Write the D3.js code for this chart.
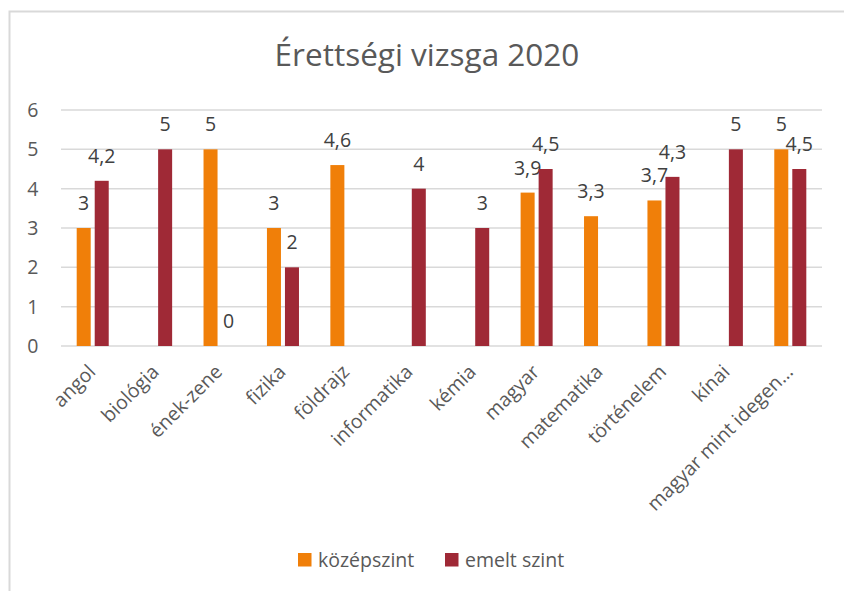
<!DOCTYPE html>
<html>
<head>
<meta charset="utf-8">
<script src="https://cdn.jsdelivr.net/npm/d3@7"></script>
<style>
  body { margin: 0; background: #fff; }
  text { font-family: "Open Sans", sans-serif; }
</style>
</head>
<body>
<div id="chart"></div>
<script>
// adatok
const categories = ["angol", "biológia", "ének-zene", "fizika", "földrajz", "informatika",
  "kémia", "magyar", "matematika", "történelem", "kínai", "magyar mint idegen…"];
const series = ["középszint", "emelt szint"];
const kozepszint = [3, null, 5, 3, 4.6, null, null, 3.9, 3.3, 3.7, null, 5];
const emeltSzint = [4.2, 5, 0, 2, null, 4, 3, 4.5, null, 4.3, 5, 4.5];
const yTicks = [0, 1, 2, 3, 4, 5, 6];
const colors = ["#F07F09", "#9F2936"];

const width = 844, height = 591;
const plot = {left: 61, right: 822, top: 110, bottom: 346};
const labelSize = "19.5px";

const svg = d3.select("#chart").append("svg")
  .attr("width", width)
  .attr("height", height);

// keret
svg.append("rect")
  .attr("x", 9.5).attr("y", 11.5)
  .attr("width", 900).attr("height", 700)
  .attr("fill", "#fff")
  .attr("stroke", "#D9D9D9")
  .attr("stroke-width", 2);

svg.append("text")
  .attr("x", 427).attr("y", 66)
  .attr("text-anchor", "middle")
  .attr("fill", "#595959")
  .style("font-size", "31.5px")
  .text("Érettségi vizsga 2020");

const x0 = d3.scaleBand()
  .domain(categories)
  .range([plot.left, plot.right]);

const groupW = x0.bandwidth() * 0.505;
const x1 = d3.scaleBand()
  .domain(series)
  .range([(x0.bandwidth() - groupW) / 2, (x0.bandwidth() + groupW) / 2])
  .paddingInner(4 / 18);

const y = d3.scaleLinear()
  .domain([0, 6])
  .range([plot.bottom, plot.top]);

// rácsvonalak
svg.append("g").selectAll("line")
  .data(yTicks)
  .enter().append("line")
  .attr("x1", plot.left).attr("x2", plot.right)
  .attr("y1", d => y(d)).attr("y2", d => y(d))
  .attr("stroke", "#D9D9D9")
  .attr("stroke-width", 1.5);

// y tengely feliratok
svg.append("g").selectAll("text")
  .data(yTicks)
  .enter().append("text")
  .attr("x", 38.5)
  .attr("y", d => y(d))
  .attr("dy", "0.36em")
  .attr("text-anchor", "end")
  .attr("fill", "#595959")
  .style("font-size", labelSize)
  .text(d => d);

const rows = categories.map((c, i) => ({
  cat: c,
  vals: [kozepszint[i], emeltSzint[i]]
}));

const fmt = v => String(v).replace(".", ",");

const group = svg.append("g").selectAll("g")
  .data(rows)
  .enter().append("g")
  .attr("transform", d => "translate(" + x0(d.cat) + ",0)");

const items = group.selectAll("g")
  .data(d => d.vals.map((v, j) => ({s: series[j], v: v, j: j})).filter(e => e.v !== null))
  .enter().append("g");

items.append("rect")
  .attr("x", d => x1(d.s))
  .attr("y", d => y(d.v))
  .attr("width", x1.bandwidth())
  .attr("height", d => y(0) - y(d.v))
  .attr("fill", d => colors[d.j]);

items.append("text")
  .attr("x", d => x1(d.s) + x1.bandwidth() / 2)
  .attr("y", d => y(d.v) - 18)
  .attr("text-anchor", "middle")
  .attr("fill", "#404040")
  .style("font-size", labelSize)
  .text(d => fmt(d.v));

// x tengely feliratok
svg.append("g").selectAll("text")
  .data(categories)
  .enter().append("text")
  .attr("transform", d => "translate(" + (x0(d) + x0.bandwidth() / 2 + 4) + "," + (plot.bottom + 27) + ") rotate(-45)")
  .attr("text-anchor", "end")
  .attr("fill", "#595959")
  .style("font-size", labelSize)
  .text(d => d);

// jelmagyarázat
const legend = svg.append("g");
const legendX = [298, 445];
series.forEach((s, i) => {
  legend.append("rect")
    .attr("x", legendX[i]).attr("y", 553)
    .attr("width", 13.5).attr("height", 13.5)
    .attr("fill", colors[i]);
  legend.append("text")
    .attr("x", legendX[i] + 20).attr("y", 560)
    .attr("dy", "0.36em")
    .attr("fill", "#595959")
    .style("font-size", labelSize)
    .text(s);
});
</script>
</body>
</html>
